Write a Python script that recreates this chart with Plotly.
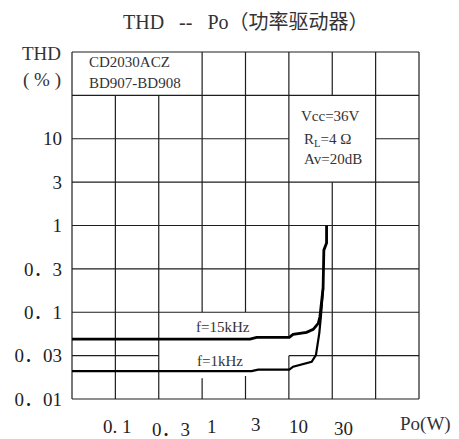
import math
import plotly.graph_objects as go

# THD vs output power, measured at two test frequencies
PO_15K = [0.0316, 3.56, 4.25, 10.1, 11.2, 16.0, 19.1, 21.8, 22.8, 23.8, 24.8, 25.3, 27.2, 27.2]
THD_15K = [0.0491, 0.0491, 0.0514, 0.0514, 0.0556, 0.0586, 0.0635, 0.0745, 0.0887, 0.138, 0.190, 0.52, 0.63, 1.0]

PO_1K = [0.0316, 3.72, 4.43, 10.1, 11.2, 14.6, 18.3, 20.5, 21.2, 22.4, 23.4, 24.2, 24.8]
THD_1K = [0.0210, 0.0210, 0.0218, 0.0218, 0.0236, 0.0253, 0.0269, 0.0321, 0.0384, 0.0571, 0.0887, 0.138, 0.190]

# half-decade axis divisions and their printed labels
X_TICK_POS = [10 ** -1, 10 ** -0.5, 1, 10 ** 0.5, 10, 10 ** 1.5]
X_TICK_TEXT = ["0. 1", "0．3", "1", "3", "10", "30"]
Y_TICK_POS = [10 ** -2, 10 ** -1.5, 10 ** -1, 10 ** -0.5, 1, 10 ** 0.5, 10]
Y_TICK_TEXT = ["0．01", "0．03", "0．1", "0．3", "1", "3", "10"]

FONT = "Liberation Serif, Noto Sans CJK SC, serif"
INK = "#1e1e1e"
NB = "\u00a0"

fig = go.Figure()
fig.add_trace(go.Scatter(x=PO_15K, y=THD_15K, mode="lines",
                         line=dict(color="#000000", width=2.8), name="f=15kHz"))
fig.add_trace(go.Scatter(x=PO_1K, y=THD_1K, mode="lines",
                         line=dict(color="#000000", width=2.2), name="f=1kHz"))

# 8 x 8 ruled grid; some rulings are interrupted around the text boxes
N = 8
v_segments = [
    (0, 0, 8), (8, 0, 8), (7, 0, 8),
    (1, 0, 7), (2, 0, 7),
    (3, 0, 0.48), (3, 2, 8),
    (4, 0, 0.53), (4, 2, 8),
    (5, 0, 1.0), (5, 1.45, 8),
    (6, 0, 5), (6, 7, 8),
]
h_segments = [
    (0, 0, 8), (8, 0, 8), (7, 0, 8),
    (1, 0, 2), (1, 5, 8),
    (2, 0, 8), (3, 0, 8), (4, 0, 8), (5, 0, 8),
    (6, 0, 5), (6, 7, 8),
]
shapes = []
for c, r0, r1 in v_segments:
    shapes.append(dict(type="line", xref="paper", yref="paper",
                       x0=c / N, x1=c / N, y0=r0 / N, y1=r1 / N,
                       line=dict(color=INK, width=1.2), layer="below"))
for r, c0, c1 in h_segments:
    shapes.append(dict(type="line", xref="paper", yref="paper",
                       x0=c0 / N, x1=c1 / N, y0=r / N, y1=r / N,
                       line=dict(color=INK, width=1.2), layer="below"))

annotations = []

def note(text, x, y, size=15, xanchor="left", **kw):
    annotations.append(dict(text=text, x=x, y=y, xref="paper", yref="paper",
                            xanchor=xanchor, yanchor="middle", showarrow=False,
                            font=dict(family=FONT, size=size, color="#333333"), **kw))

note(f"THD{NB*3}--{NB*3}Po（功率驱动器）", 0.5, 1.086, size=20, xanchor="center")
note("CD2030ACZ", 0.043, 0.971)
note("BD907-BD908", 0.043, 0.912)
note("Vcc=36V", 0.655, 0.816)
note("R<sub>L</sub>=4 Ω", 0.663, 0.746)
note("Av=20dB", 0.663, 0.692)
note("f=15kHz", 0.435, 0.207, xanchor="center")
note("f=1kHz", 0.427, 0.110, xanchor="center")
note("THD", -0.026, 0.995, size=19, xanchor="right")
note("( % )", -0.026, 0.92, size=19, xanchor="right")
note("Po(W)", 1.02, -0.073, size=19, xanchor="center")

# x labels sit slightly right of their rulings and at uneven heights
x_shift = [2.5, 12, 10, 10, 10, 11]
y_shift = [-27.5, -30, -27.5, -25, -27, -29]
for pos, txt, dx, dy in zip(X_TICK_POS, X_TICK_TEXT, x_shift, y_shift):
    annotations.append(dict(text=txt, x=math.log10(pos), y=0, xref="x", yref="paper",
                            xanchor="center", yanchor="middle", xshift=dx, yshift=dy,
                            showarrow=False, font=dict(family=FONT, size=19, color=INK)))

fig.update_layout(
    width=459, height=439,
    margin=dict(l=72, r=40, t=52, b=40),
    paper_bgcolor="white", plot_bgcolor="white",
    showlegend=False,
    shapes=shapes, annotations=annotations,
    xaxis=dict(type="log", range=[-1.5, 2.5], showgrid=False, zeroline=False,
               showticklabels=False, ticks="", showline=False, fixedrange=True),
    yaxis=dict(type="log", range=[-2, 2], showgrid=False, zeroline=False,
               tickvals=Y_TICK_POS, ticktext=Y_TICK_TEXT, ticks="",
               ticklabelstandoff=9, showline=False, fixedrange=True,
               tickfont=dict(family=FONT, size=19, color=INK)),
)

fig.write_html("out.html")
